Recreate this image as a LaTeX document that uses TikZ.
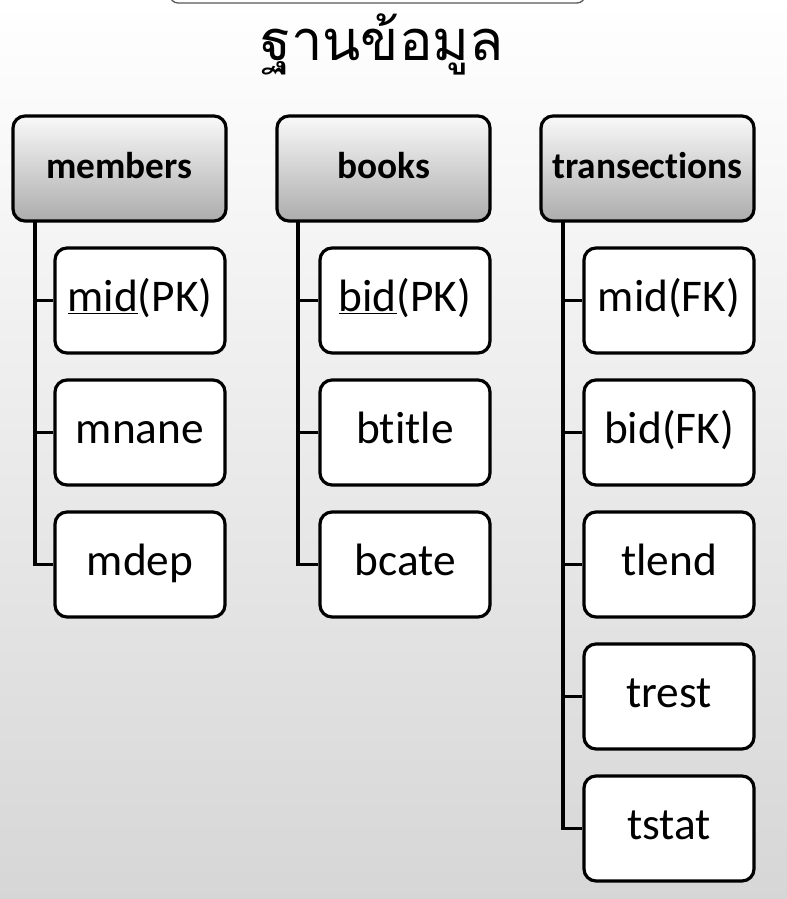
\documentclass[tikz,border=0pt]{standalone}
\usepackage{fontspec}
\setmainfont[Ligatures=NoCommon]{Carlito}
\newfontfamily\thaifont[Script=Thai]{Loma}
\begin{document}
\begin{tikzpicture}[x=0.75pt,y=-0.75pt,
  hdr/.style={draw=black,line width=2.4pt,rounded corners=9pt,top color=gray!5,bottom color=gray!65,
    minimum width=159.75pt,minimum height=78.75pt,font=\fontsize{28}{30}\selectfont\bfseries,inner sep=0pt,
    text height=22pt,text depth=7pt},
  fld/.style={draw=black,line width=2.4pt,rounded corners=9pt,fill=white,
    minimum width=127.5pt,minimum height=78.75pt,font=\fontsize{34}{36}\selectfont,inner sep=0pt,
    text height=25pt,text depth=9pt},
  trunk/.style={line width=2.4pt,black}]
\useasboundingbox (0,0) rectangle (787,899);
\clip (0,0) rectangle (787,899);
\shade[top color=white,bottom color=gray!32] (0,0) rectangle (787,899);
\draw[line width=1pt,gray!70!black,rounded corners=6pt,fill=white] (170,-30) rectangle (585,3);
\node[font=\thaifont\fontsize{42}{44}\selectfont] (title) at (382,44) {ฐานข้อมูล};
% headers
\node[hdr] (mh) at (119.5,168.5) {members};
\node[hdr] (bh) at (383.5,168.5) {books};
\node[hdr] (th) at (647.5,168.5) {transections};
% members
\node[fld] (m1) at (140,300.5) {\underline{mid}(PK)};
\node[fld] (m2) at (140,432.5) {mnane};
\node[fld] (m3) at (140,564.5) {mdep};
% books
\node[fld] (b1) at (405,300.5) {\underline{bid}(PK)};
\node[fld] (b2) at (405,432.5) {btitle};
\node[fld] (b3) at (405,564.5) {bcate};
% transections
\node[fld] (t1) at (669,300.5) {mid(FK)};
\node[fld] (t2) at (669,432.5) {bid(FK)};
\node[fld] (t3) at (669,564.5) {tlend};
\node[fld] (t4) at (669,696.5) {trest};
\node[fld] (t5) at (669,828.5) {tstat};
% trunks
\coordinate (mt) at (35,221);
\coordinate (bt) at (298,221);
\coordinate (tt) at (563,221);
\draw[trunk] (mt) |- (m3.west);
\draw[trunk] (m1.west) -- (m1.west -| mt);
\draw[trunk] (m2.west) -- (m2.west -| mt);
\draw[trunk] (bt) |- (b3.west);
\draw[trunk] (b1.west) -- (b1.west -| bt);
\draw[trunk] (b2.west) -- (b2.west -| bt);
\draw[trunk] (tt) |- (t5.west);
\draw[trunk] (t1.west) -- (t1.west -| tt);
\draw[trunk] (t2.west) -- (t2.west -| tt);
\draw[trunk] (t3.west) -- (t3.west -| tt);
\draw[trunk] (t4.west) -- (t4.west -| tt);
\end{tikzpicture}
\end{document}
